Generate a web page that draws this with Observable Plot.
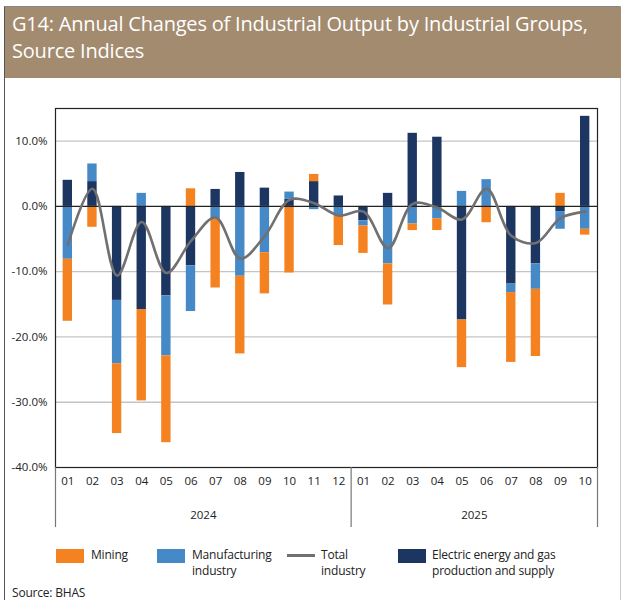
<!DOCTYPE html>
<html>
<head>
<meta charset="utf-8">
<script src="https://cdn.jsdelivr.net/npm/d3@7"></script>
<script src="https://cdn.jsdelivr.net/npm/@observablehq/plot@0.6"></script>
<style>
  html, body { margin: 0; padding: 0; background: #fff; }
  #wrap { position: relative; width: 624px; height: 600px; overflow: hidden; font-family: "Open Sans", sans-serif; }
  #frame { position: absolute; left: 4px; top: 6px; width: 617px; height: 610px; border-left: 1.5px solid #555; border-top: 1px solid #888; border-right: 1px solid #ccc; box-sizing: border-box; }
  #banner { position: absolute; left: 5px; top: 7px; width: 616px; height: 71px; background: #a38b6f; }
  #title { position: absolute; left: 12px; top: 11px; color: #fff; font-size: 20px; line-height: 26.5px; letter-spacing: -0.2px; }
  #chart { position: absolute; left: 0; top: 90px; }
  .leg { position: absolute; font-size: 12px; line-height: 16px; color: #222; letter-spacing: -0.2px; }
  .sw { position: absolute; width: 28px; height: 14px; }
  .ln { position: absolute; width: 28px; height: 3px; }
  #source { position: absolute; left: 12px; top: 584px; font-size: 12px; color: #222; letter-spacing: -0.2px; }
</style>
</head>
<body>
<div id="wrap">
  <div id="frame"></div>
  <div id="banner"></div>
  <div id="title">G14: Annual Changes of Industrial Output by Industrial Groups,<br>Source Indices</div>
  <div id="chart"></div>
  <div id="legend"></div>
  <div id="source">Source: BHAS</div>
</div>
<script>
// ---- data ----
const months = ["2024-01","2024-02","2024-03","2024-04","2024-05","2024-06","2024-07","2024-08","2024-09","2024-10","2024-11","2024-12",
                "2025-01","2025-02","2025-03","2025-04","2025-05","2025-06","2025-07","2025-08","2025-09","2025-10"];
const years = ["2024", "2025"];
const seriesNames = ["Electric energy and gas production and supply", "Manufacturing industry", "Mining"];
const electric      = [4.0, 3.8, -14.4, -15.8, -13.7, -9.1, 2.6, 5.2, 2.8, 1.1, 3.8, 1.6, -2.2, 2.0, 11.2, 10.6, -17.4, 0.0, -11.9, -8.8, -0.8, 13.8];
const manufacturing = [-8.1, 2.7, -9.7, 2.0, -9.2, -7.0, -1.9, -10.7, -7.1, 1.1, -0.5, -1.5, -0.8, -8.8, -2.7, -1.9, 2.3, 4.1, -1.3, -3.9, -2.7, -3.5];
const mining        = [-9.5, -3.2, -10.7, -14.0, -13.3, 2.7, -10.6, -11.9, -6.3, -10.2, 1.1, -4.5, -4.2, -6.3, -1.0, -1.8, -7.3, -2.5, -10.7, -10.3, 2.0, -0.9];
const total         = [-5.9, 2.7, -10.6, -2.4, -10.2, -5.3, -1.7, -8.0, -4.5, 1.0, 0.5, -1.4, -0.8, -6.4, 0.4, -0.2, -2.0, 2.7, -4.5, -5.6, -1.8, -0.8];
const yTicks = [10, 0, -10, -20, -30, -40];

const colors = {
  "Electric energy and gas production and supply": "#1c3661",
  "Manufacturing industry": "#4589c6",
  "Mining": "#f58220",
  "Total industry": "#707070"
};

// ---- build tables ----
const bars = [];
months.forEach((m, i) => {
  bars.push({month: m, group: seriesNames[0], value: electric[i]});
  bars.push({month: m, group: seriesNames[1], value: manufacturing[i]});
  bars.push({month: m, group: seriesNames[2], value: mining[i]});
});
const lineData = months.map((m, i) => ({month: m, value: total[i]}));

const W = 624, H = 450;
const mL = 55, mR = 27, mT = 18, mB = 73;
const step = (W - mL - mR) / months.length;
const barInset = step * 0.31;

const yearGroups = years.map(y => {
  const ms = months.filter(m => m.startsWith(y));
  return {year: y, first: ms[0], last: ms[ms.length - 1], mid: ms[ms.length / 2 - 1]};
});

const chart = Plot.plot({
  width: W, height: H,
  marginLeft: mL, marginRight: mR, marginTop: mT, marginBottom: mB,
  style: {fontFamily: "'Open Sans', sans-serif", fontSize: "11px", color: "#222", background: "transparent"},
  x: {domain: months, padding: 0, round: false, axis: null},
  y: {domain: [-40, 15], axis: null},
  color: {domain: seriesNames, range: seriesNames.map(s => colors[s])},
  marks: [
    Plot.ruleY([10, -10, -20, -30], {stroke: "#c4c4c4", strokeWidth: 1.3}),
    Plot.barY(bars, {x: "month", y: "value", fill: "group", z: "group", order: seriesNames, insetLeft: barInset, insetRight: barInset}),
    Plot.ruleY([0], {stroke: "#222", strokeWidth: 1.1}),
    Plot.line(lineData, {x: "month", y: "value", curve: "catmull-rom", stroke: colors["Total industry"], strokeWidth: 2.6}),
    Plot.frame({stroke: "#222", strokeWidth: 1.2}),
    Plot.axisY({ticks: yTicks, tickSize: 0, tickPadding: 8, tickFormat: d => d.toFixed(1) + "%", fontSize: 11.5, label: null}),
    Plot.axisX({tickSize: 0, tickPadding: 9, tickFormat: d => d.slice(5), fontSize: 11.5, label: null}),
    // year separators
    Plot.ruleX(yearGroups, {x: "first", dx: -step / 2, y1: -40, y2: -49.2, stroke: "#777", strokeWidth: 1.2}),
    Plot.ruleX(yearGroups.slice(-1), {x: "last", dx: step / 2, y1: -40, y2: -49.2, stroke: "#777", strokeWidth: 1.2}),
    // year labels, centred under each year's months
    Plot.text(yearGroups, {x: "mid", dx: step / 2, y: -47.4, text: "year", fontSize: 11.5, fill: "#222"})
  ]
});
document.getElementById("chart").appendChild(chart);

// ---- legend ----
const legendItems = [
  {label: "Mining", kind: "sw", key: "Mining", x: 56, tx: 91},
  {label: "Manufacturing<br>industry", kind: "sw", key: "Manufacturing industry", x: 157, tx: 192},
  {label: "Total<br>industry", kind: "ln", key: "Total industry", x: 287, tx: 321},
  {label: "Electric energy and gas<br>production and supply", kind: "sw", key: "Electric energy and gas production and supply", x: 398, tx: 432}
];
const leg = document.getElementById("legend");
legendItems.forEach(it => {
  const s = document.createElement("div");
  s.className = it.kind;
  s.style.left = it.x + "px";
  s.style.top = (it.kind === "sw" ? 549 : 554) + "px";
  s.style.background = colors[it.key];
  leg.appendChild(s);
  const t = document.createElement("div");
  t.className = "leg";
  t.style.left = it.tx + "px";
  t.style.top = "547px";
  t.innerHTML = it.label;
  leg.appendChild(t);
});
</script>
</body>
</html>
